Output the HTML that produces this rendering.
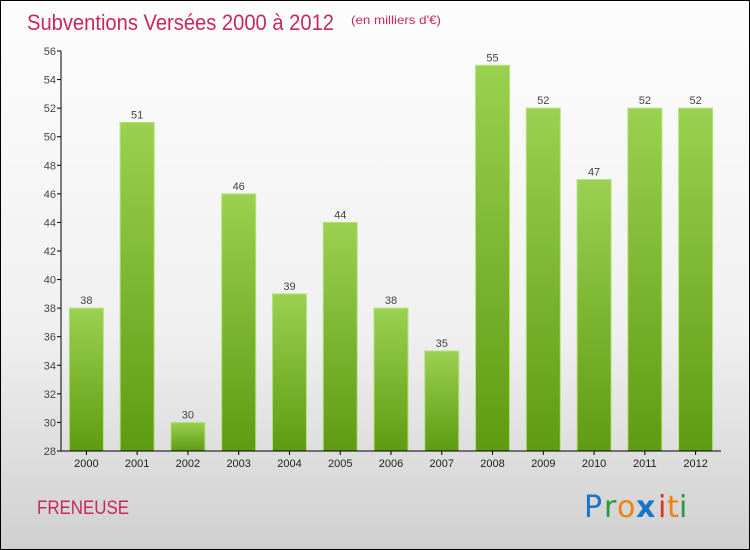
<!DOCTYPE html>
<html><head><meta charset="utf-8"><style>
body{margin:0}
#c{width:748px;height:548px;border:1px solid #000;background:linear-gradient(#fdfdfd 0%,#f0f0f0 60%,#d0d0d0 100%);position:relative;font-family:"Liberation Sans",sans-serif}
</style></head><body>
<div id="c">
<svg id="s" width="748" height="548" style="position:absolute;left:0;top:0">
<defs><linearGradient id="g" x1="0" y1="0" x2="0" y2="1"><stop offset="0" stop-color="#9ad150"/><stop offset="1" stop-color="#5e9b12"/></linearGradient></defs>
<text x="26" y="29" font-size="22" fill="#c8285a" textLength="307" lengthAdjust="spacingAndGlyphs">Subventions Versées 2000 à 2012</text>
<text x="350" y="23" font-size="12" fill="#c8285a" textLength="90" lengthAdjust="spacingAndGlyphs">(en milliers d'€)</text>
<text x="36" y="513" font-size="19" fill="#c8285a" textLength="92" lengthAdjust="spacingAndGlyphs">FRENEUSE</text>
<g font-size="30" font-family="'DejaVu Sans',sans-serif"><text x="583" y="516" fill="#1a74c8">P</text><text x="603" y="516" fill="#2a9a3a">r</text><text x="616" y="516" fill="#f08010">o</text><text x="635" y="516" fill="#1a74c8" font-weight="bold">x</text><text x="657" y="516" fill="#e03020">i</text><text x="666" y="516" fill="#f08010">t</text><text x="678" y="516" fill="#2a9a3a">i</text></g>
<g id="plot"></g>
</svg>
</div>
<script>
const years=["2000","2001","2002","2003","2004","2005","2006","2007","2008","2009","2010","2011","2012"];
const values=[38,51,30,46,39,44,38,35,55,52,47,52,52];
const yTicks=[28,30,32,34,36,38,40,42,44,46,48,50,52,54,56];
const NS="http://www.w3.org/2000/svg";
const p=document.getElementById('plot');
const x0=60,x1=720,yTop=50,yBot=450,vMin=28,vMax=56;
const y=v=>yBot-(v-vMin)/(vMax-vMin)*(yBot-yTop);
const step=(x1-x0)/years.length;
const xc=i=>x0+step*(i+0.5);
function mk(t,a){const e=document.createElementNS(NS,t);for(const k in a)e.setAttribute(k,a[k]);p.appendChild(e);return e;}
yTicks.forEach(v=>{
 const l=mk('line',{x1:x0-4,x2:x0,y1:y(v),y2:y(v),stroke:'#000'});
 
 
 const t=mk('text',{x:x0-5,y:y(v)+4,'text-anchor':'end','font-size':11,fill:'#444'});t.textContent=v;
 
 
});
years.forEach((yr,i)=>{
 const v=values[i],w=34;
 const r=mk('rect',{x:xc(i)-w/2,y:y(v),width:w,height:yBot-y(v),fill:'url(#g)',stroke:'#b5e27a','stroke-width':1});
 
 
 const t=mk('text',{x:xc(i),y:y(v)-4,'text-anchor':'middle','font-size':11,fill:'#444'});t.textContent=v;
 
 
 const tk=mk('line',{x1:xc(i),x2:xc(i),y1:yBot,y2:yBot+4,stroke:'#000'});
 
 
 const xl=mk('text',{x:xc(i),y:yBot+16,'text-anchor':'middle','font-size':11,fill:'#222'});xl.textContent=yr;
 
 
});
const ya=mk('line',{x1:x0,x2:x0,y1:yTop,y2:yBot,stroke:'#000'});


const xa=mk('line',{x1:x0,x2:x1,y1:yBot,y2:yBot,stroke:'#000'});


</script>
</body></html>
